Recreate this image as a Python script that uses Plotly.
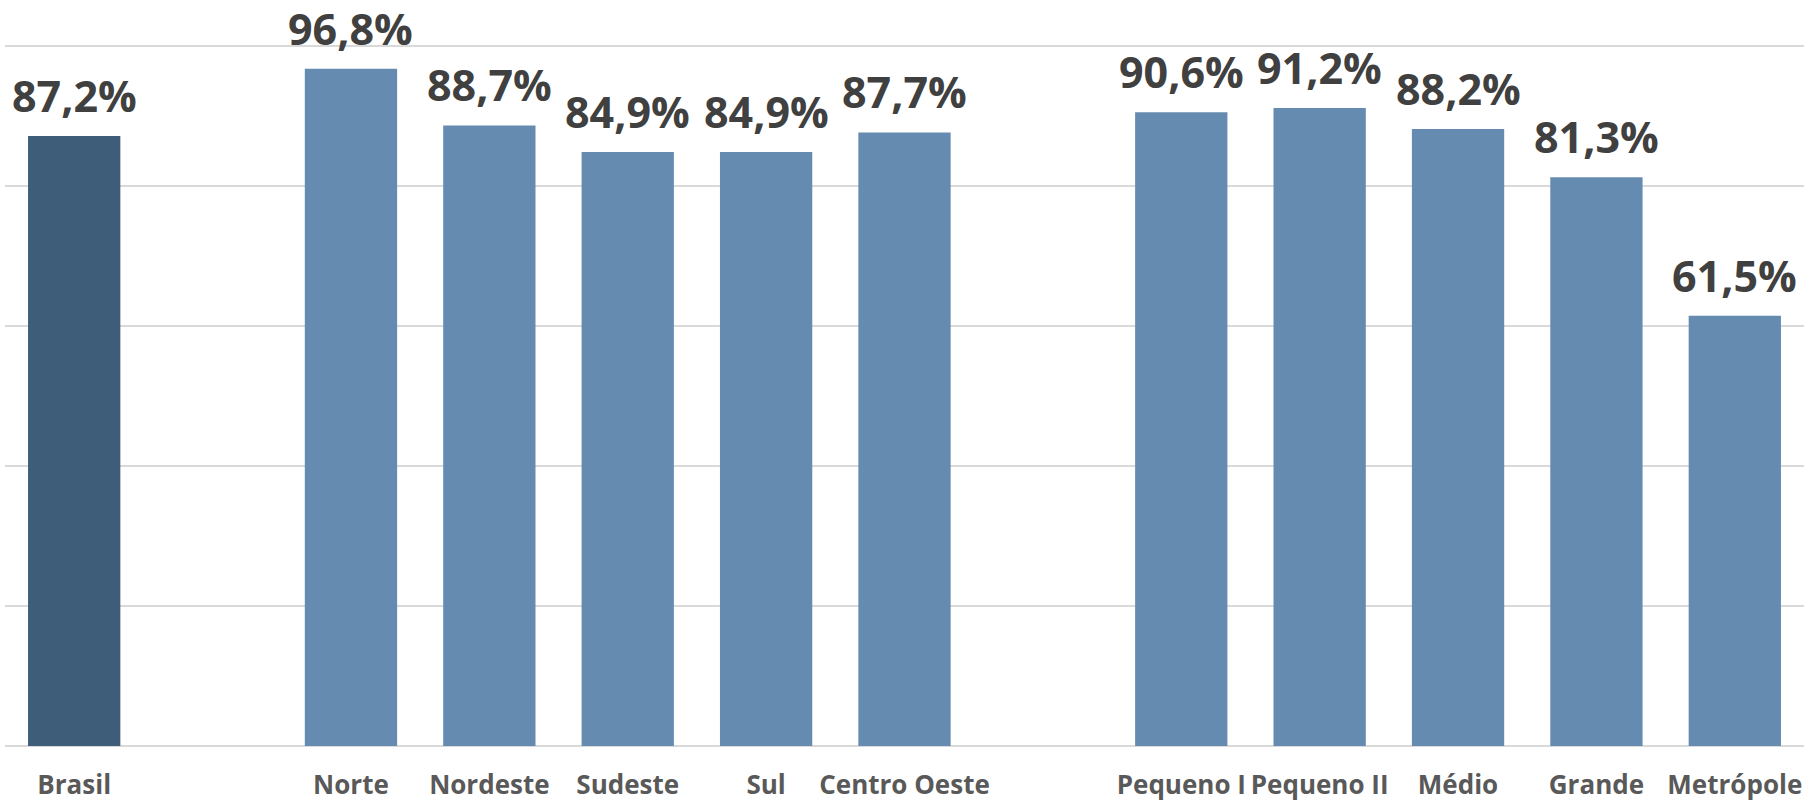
import plotly.graph_objects as go

categories = ["Brasil", " ", "Norte", "Nordeste", "Sudeste", "Sul", "Centro Oeste", "  ",
              "Pequeno I", "Pequeno II", "Médio", "Grande", "Metrópole"]
values = [87.2, None, 96.8, 88.7, 84.9, 84.9, 87.7, None, 90.6, 91.2, 88.2, 81.3, 61.5]
labels = ["87,2%", "", "96,8%", "88,7%", "84,9%", "84,9%", "87,7%", "",
          "90,6%", "91,2%", "88,2%", "81,3%", "61,5%"]
bar_colors = ["#3E5D79"] + ["#658BB0"] * 12

fig = go.Figure()
fig.add_trace(go.Bar(
    x=categories, y=values,
    marker=dict(color=bar_colors, line=dict(width=0)),
    hoverinfo="skip",
))

for c, v, t in zip(categories, values, labels):
    if v is None:
        continue
    fig.add_annotation(
        x=c, y=v, text=t, showarrow=False, yanchor="bottom", yshift=10,
        borderpad=0,
        font=dict(family="Open Sans", size=43, color="#404040", weight="bold"),
    )

fig.update_layout(
    width=1812, height=803,
    margin=dict(l=5, r=8, t=45, b=57),
    paper_bgcolor="white", plot_bgcolor="white",
    bargap=0.333,
    showlegend=False,
    xaxis=dict(
        type="category", showgrid=False, showline=False, ticks="",
        tickangle=0, automargin=False,
        ticklabelstandoff=21,
        tickfont=dict(family="Open Sans", size=26, color="#595959", weight="bold"),
    ),
    yaxis=dict(
        range=[0, 100.2], dtick=20, showticklabels=False, showgrid=True,
        gridcolor="#D9D9D9", gridwidth=2, zeroline=True, zerolinecolor="#D9D9D9",
        zerolinewidth=2, showline=False, ticks="", automargin=False,
    ),
)

fig.write_html("out.html", config={"displayModeBar": False},
               post_script="document.body.style.margin='0';document.body.style.overflow='hidden';")
